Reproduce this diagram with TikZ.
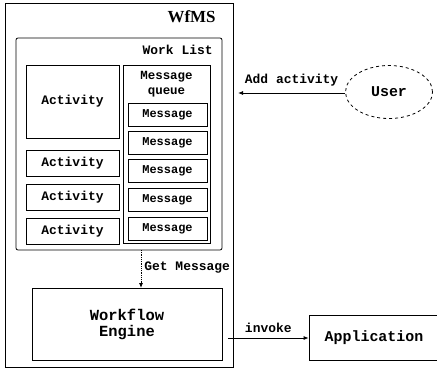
\documentclass[tikz,border=0pt]{standalone}
\usepackage{fontspec}
\setmainfont{Liberation Serif}
\newfontfamily\mono{Liberation Mono}
\usetikzlibrary{arrows.meta,shapes.geometric}

\begin{document}
\begin{tikzpicture}[x=1bp,y=-1bp,
  line width=0.8bp,
  box/.style={draw, inner sep=0pt, font=\mono\bfseries\fontsize{13}{15}\selectfont},
  lbl/.style={inner sep=0pt, font=\mono\bfseries\fontsize{13}{15}\selectfont},
  msg/.style={box, minimum width=79bp, minimum height=23bp, font=\mono\bfseries\fontsize{12}{14}\selectfont},
  arr/.style={-{Latex[length=5bp,width=4bp]}},
]
\useasboundingbox (0,0) rectangle (437,371);

% outer system boundary
\node[draw, minimum width=228bp, minimum height=364bp, inner sep=0pt] (wfms) at (119,185) {};
\node[inner sep=0pt, anchor=north east, font=\bfseries\fontsize{17}{19}\selectfont] (wfmslbl) at (216,10) {WfMS};

% work list
\node[draw, rounded corners=2bp, minimum width=206bp, minimum height=212bp, inner sep=0pt] (worklist) at (119,144) {};
\node[lbl, anchor=north east] (wltitle) at (213,45) {Work List};

% activities
\node[box, minimum width=93bp, minimum height=73bp] (act1) at (72.5,101.5) {Activity};
\node[box, minimum width=93bp, minimum height=26bp] (act2) at (72.5,163) {Activity};
\node[box, minimum width=93bp, minimum height=26bp] (act3) at (72.5,197) {Activity};
\node[box, minimum width=93bp, minimum height=26bp] (act4) at (72.5,231) {Activity};

% message queue
\node[draw, minimum width=87bp, minimum height=178bp, inner sep=0pt] (queue) at (166.5,154) {};
\node[lbl, align=center, anchor=north, font=\mono\bfseries\fontsize{12.5}{15}\selectfont] (qtitle) at (166.5,71) {Message\\queue};
\node[msg] (m1) at (167.5,114.5) {Message};
\node[msg] (m2) at (167.5,142.5) {Message};
\node[msg] (m3) at (167.5,170.5) {Message};
\node[msg] (m4) at (167.5,200) {Message};
\node[msg] (m5) at (167.5,229) {Message};

% workflow engine
\node[box, minimum width=190bp, minimum height=72bp, align=center, font=\mono\bfseries\fontsize{15.5}{16}\selectfont] (engine) at (127,324) {Workflow\\Engine};

% external actors
\node[draw, dashed, ellipse, minimum width=87bp, minimum height=53bp, inner sep=0pt, font=\mono\bfseries\fontsize{15}{17}\selectfont] (user) at (389,92) {User};
\node[box, minimum width=130bp, minimum height=45bp, font=\mono\bfseries\fontsize{15}{17}\selectfont] (app) at (374,338) {Application};

% connectors
\coordinate (addend) at (238,93);
\draw[arr] (user.west |- addend) -- (addend)
  node[lbl, midway, above=6bp] (addlbl) {Add activity};
\coordinate (gettop) at (141,250);
\coordinate (getend) at (141,288);
\draw[arr, densely dotted] (gettop) -- (getend)
  node[lbl, pos=0.45, right=3bp] (getlbl) {Get Message};
\coordinate (invstart) at (228,338);
\draw[arr] (invstart) -- (app.west |- invstart)
  node[lbl, midway, above=5bp] (invlbl) {invoke};
\end{tikzpicture}
\end{document}
